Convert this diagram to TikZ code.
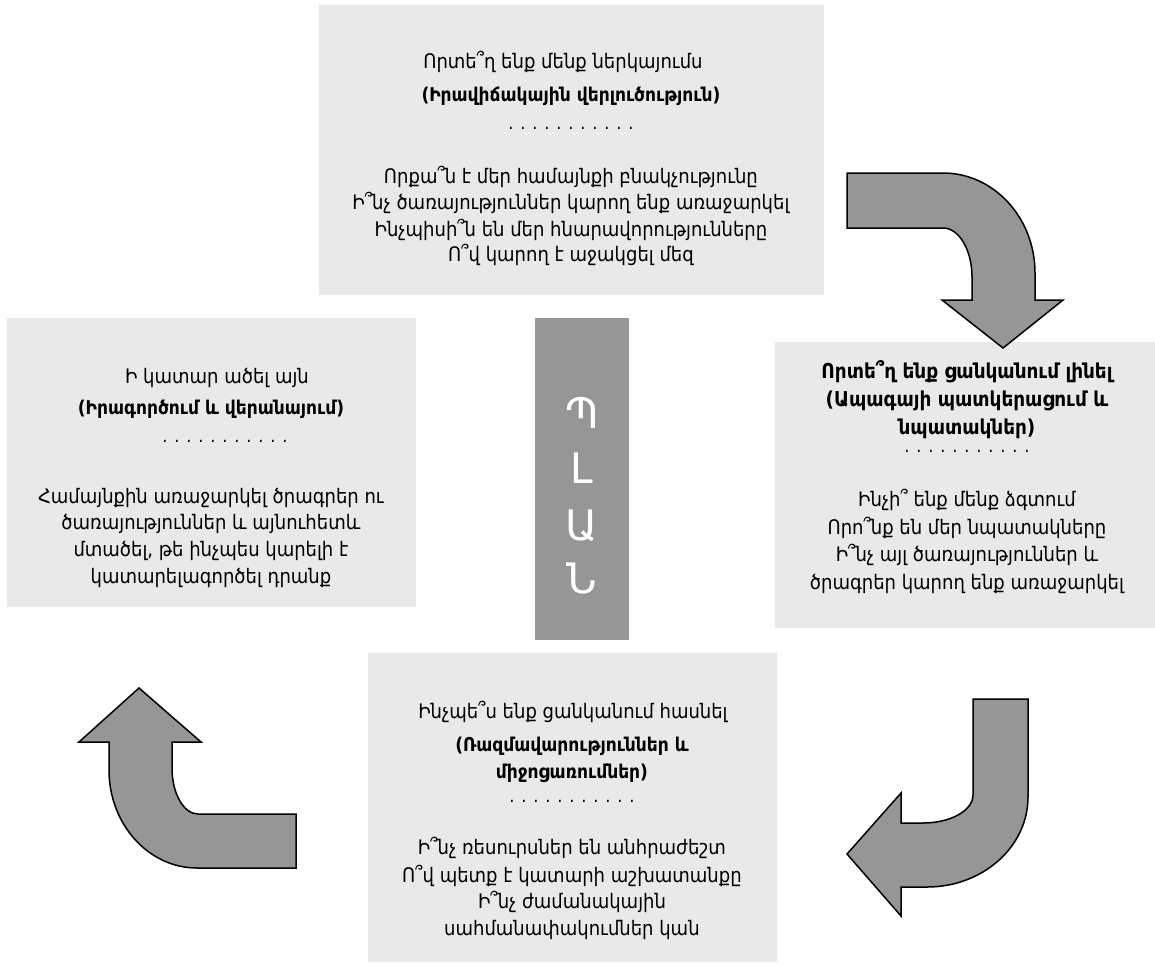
\documentclass[tikz,border=0pt]{standalone}
\usepackage{fontspec}
\setmainfont{DejaVu Sans Condensed}
\newfontfamily\barfont{DejaVu Sans}
\definecolor{boxgray}{HTML}{E9E9E9}
\definecolor{bargray}{HTML}{969696}
\tikzset{
  panel/.style={fill=boxgray, draw=none, inner sep=0, outer sep=0},
  barpanel/.style={fill=bargray, draw=none, inner sep=0, outer sep=0},
  txt/.style={anchor=base, inner sep=0, font=\fontsize{20}{24}\selectfont},
  btxt/.style={anchor=base, inner sep=0, font=\bfseries\fontsize{19}{23}\selectfont},
  rbtxt/.style={anchor=base, inner sep=0, font=\bfseries\fontsize{20.5}{24}\selectfont},
  dtxt/.style={anchor=base, inner sep=0, font=\fontsize{18}{22}\selectfont},
  bartxt/.style={anchor=base, inner sep=0, text=white, font=\barfont\fontsize{42}{50}\selectfont},
  bentarrow/.style={fill=bargray, draw=black, line width=1.5pt, line join=miter}
}
\begin{document}
\begin{tikzpicture}[x=1pt,y=-1pt]
\useasboundingbox (0,0) rectangle (1155,963);
% panels
\node[panel, minimum width=505pt, minimum height=290pt] (ptop) at (571.5,150) {};
\node[panel, minimum width=409pt, minimum height=289pt] (pleft) at (211.5,462.5) {};
\node[panel, minimum width=380pt, minimum height=286pt] (pright) at (965,485) {};
\node[panel, minimum width=409pt, minimum height=309pt] (pbottom) at (572.5,807.5) {};
\node[barpanel, minimum width=94pt, minimum height=322pt] (pbar) at (582,479) {};
% bar letters
\node[bartxt] (b1) at (582,428) {Պ};
\node[bartxt] (b2) at (582,483) {Լ};
\node[bartxt] (b3) at (582,540) {Ա};
\node[bartxt] (b4) at (582,593) {Ն};
% top panel text
\node[txt] (t1) at (563,69) {Որտե՞ղ ենք մենք ներկայումս};
\node[btxt] (t2) at (571,102) {(Իրավիճակային վերլուծություն)};
\node[dtxt] (t3) at (571,129) {. . . . . . . . . . .};
\node[txt] (t4) at (571,183) {Որքա՞ն է մեր համայնքի բնակչությունը};
\node[txt] (t5) at (571,209) {Ի՞նչ ծառայություններ կարող ենք առաջարկել};
\node[txt] (t6) at (571,236) {Ինչպիսի՞ն են մեր հնարավորությունները};
\node[txt] (t7) at (571,261) {Ո՞վ կարող է աջակցել մեզ};
% left panel text
\node[txt] (l1) at (217,383) {Ի կատար ածել այն};
\node[btxt] (l2) at (211,414) {(Իրագործում և վերանայում)};
\node[dtxt] (l3) at (225,442) {. . . . . . . . . . .};
\node[txt] (l4) at (211,503) {Համայնքին առաջարկել ծրագրեր ու};
\node[txt] (l5) at (211,529) {ծառայություններ և այնուհետև};
\node[txt] (l6) at (211,556) {մտածել, թե ինչպես կարելի է};
\node[txt] (l7) at (211,583) {կատարելագործել դրանք};
% right panel text
\node[rbtxt] (r1) at (967,378) {Որտե՞ղ ենք ցանկանում լինել};
\node[rbtxt] (r2) at (967,406) {(Ապագայի պատկերացում և};
\node[rbtxt] (r3) at (967,434) {նպատակներ)};
\node[dtxt] (r4) at (967,452) {. . . . . . . . . . .};
\node[txt] (r5) at (967,506) {Ինչի՞ ենք մենք ձգտում};
\node[txt] (r6) at (967,534) {Որո՞նք են մեր նպատակները};
\node[txt] (r7) at (967,561) {Ի՞նչ այլ ծառայություններ և};
\node[txt] (r8) at (967,589) {ծրագրեր կարող ենք առաջարկել};
% bottom panel text
\node[txt] (m1) at (573,718) {Ինչպե՞ս ենք ցանկանում հասնել};
\node[btxt] (m2) at (572,751) {(Ռազմավարություններ և};
\node[btxt] (m3) at (572,778) {միջոցառումներ)};
\node[dtxt] (m4) at (572,802) {. . . . . . . . . . .};
\node[txt] (m5) at (572,854) {Ի՞նչ ռեսուրսներ են անհրաժեշտ};
\node[txt] (m6) at (572,882) {Ո՞վ պետք է կատարի աշխատանքը};
\node[txt] (m7) at (572,908) {Ի՞նչ ժամանակային};
\node[txt] (m8) at (572,935) {սահմանափակումներ կան};
% bent arrows
\draw[bentarrow] (847,173) -- (943,173)
  .. controls (993.8,173) and (1035,217.8) .. (1035,273)
  -- (1035,300) -- (1063,300) -- (1003,348) -- (942,300) -- (972,300) -- (972,277)
  .. controls (972,250) and (959,228) .. (943,228)
  -- (847,228) -- cycle;
\draw[bentarrow] (973,699) -- (1028,699) -- (1028,797)
  .. controls (1028,846.7) and (982.8,887) .. (927,887)
  -- (901,887) -- (901,916) -- (847,854) -- (901,793) -- (901,823) -- (923,823)
  .. controls (950.6,823) and (973,810.5) .. (973,795)
  -- cycle;
\draw[bentarrow] (139,688) -- (201,742) -- (172,742) -- (172,768)
  .. controls (172,793.4) and (183.6,814) .. (198,814)
  -- (296,814) -- (296,868) -- (197,868)
  .. controls (148.4,868) and (109,824) .. (109,770)
  -- (109,742) -- (79,742) -- cycle;
\end{tikzpicture}
\end{document}
